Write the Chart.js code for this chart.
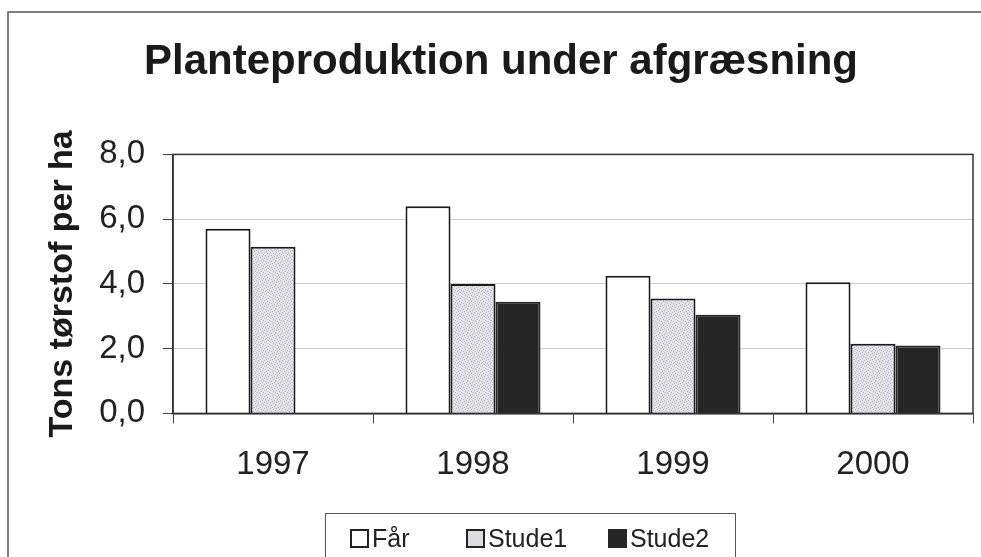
<!DOCTYPE html>
<html>
<head>
<meta charset="utf-8">
<script src="https://cdn.jsdelivr.net/npm/chart.js@4.4.1/dist/chart.umd.min.js"></script>
<style>
  html, body { margin: 0; padding: 0; background: #fff; }
  #wrap { position: relative; width: 981px; height: 557px; }
  #legend {
    position: absolute; left: 325px; top: 513px; width: 411px; height: 50px;
    border: 1.5px solid #555; border-bottom: none; box-sizing: border-box;
    font-family: "Liberation Sans", Arial, sans-serif; font-size: 25px; color: #222;
  }
  #legend .item { position: absolute; top: 10px; display: flex; align-items: center; }
  #legend .box { width: 15px; height: 15px; border: 2px solid #222; margin-right: 3px; }
</style>
</head>
<body>
<div id="wrap">
  <canvas id="chart" width="981" height="557"></canvas>
  <div id="legend"></div>
</div>
<script>
// values (tons dry matter per ha)
const years = ['1997', '1998', '1999', '2000'];
const seriesNames = ['Får', 'Stude1', 'Stude2'];
const farValues = [5.7, 6.4, 4.25, 4.05];
const stude1Values = [5.15, 4.0, 3.55, 2.15];
const stude2Values = [null, 3.45, 3.05, 2.1];

const FONT = '"Liberation Sans", Arial, sans-serif';

// light stippled grey fill like the scan
function stipple() {
  const c = document.createElement('canvas');
  c.width = 6; c.height = 6;
  const g = c.getContext('2d');
  g.fillStyle = '#e2e2e8';
  g.fillRect(0, 0, 6, 6);
  g.fillStyle = '#b8b8c0';
  [[0, 0], [3, 1], [1, 3], [4, 4], [5, 2], [2, 5]].forEach(p => g.fillRect(p[0], p[1], 1, 1));
  return g.createPattern(c, 'repeat');
}

const framePlugin = {
  id: 'frame',
  beforeDraw(chart) {
    const ctx = chart.ctx;
    ctx.save();
    ctx.strokeStyle = '#555';
    ctx.lineWidth = 1.5;
    ctx.beginPath();
    ctx.moveTo(8, 557);
    ctx.lineTo(8, 12);
    ctx.lineTo(981, 12);
    ctx.stroke();
    ctx.restore();
  },
  afterDatasetsDraw(chart) {
    const a = chart.chartArea;
    const ctx = chart.ctx;
    ctx.save();
    ctx.strokeStyle = '#333';
    ctx.lineWidth = 1.5;
    ctx.strokeRect(a.left, a.top, a.right - a.left, a.bottom - a.top);
    ctx.restore();
  }
};

const chart = new Chart(document.getElementById('chart'), {
  type: 'bar',
  data: {
    labels: years,
    datasets: [
      { label: seriesNames[0], data: farValues, backgroundColor: '#fff', borderColor: '#1a1a1a', borderWidth: 2 },
      { label: seriesNames[1], data: stude1Values, backgroundColor: stipple(), borderColor: '#1a1a1a', borderWidth: 2 },
      { label: seriesNames[2], data: stude2Values, backgroundColor: '#262626', borderColor: '#262626', borderWidth: 2 }
    ]
  },
  options: {
    responsive: false,
    animation: false,
    devicePixelRatio: 1,
    layout: { padding: { left: 29, right: 8, top: 0, bottom: 50 } },
    datasets: { bar: { categoryPercentage: 0.675, barPercentage: 1 } },
    plugins: {
      legend: { display: false },
      tooltip: { enabled: false },
      title: {
        display: true,
        text: 'Planteproduktion under afgræsning',
        color: '#1a1a1a',
        font: { family: FONT, size: 42, weight: 'bold' },
        padding: { top: 37, bottom: 67 }
      }
    },
    scales: {
      x: {
        grid: { offset: true, drawOnChartArea: false, color: '#444', tickLength: 10 },
        border: { color: '#333', width: 1.5 },
        ticks: { color: '#222', padding: 22, font: { family: FONT, size: 33 } }
      },
      y: {
        min: 0,
        max: 8,
        afterFit(scale) { scale.width = 144; },
        ticks: {
          stepSize: 2,
          color: '#222',
          padding: 18,
          font: { family: FONT, size: 33 },
          callback: v => v.toFixed(1).replace('.', ',')
        },
        grid: { color: '#cfcfcf', tickLength: 10, tickColor: '#444' },
        border: { color: '#333', width: 1.5 },
        title: {
          display: true,
          text: 'Tons tørstof per ha',
          color: '#1a1a1a',
          font: { family: FONT, size: 34, weight: 'bold' },
          padding: { top: 13, bottom: 0 }
        }
      }
    }
  },
  plugins: [framePlugin]
});

// html legend built from the chart datasets
const legendEl = document.getElementById('legend');
const legendX = [24, 140, 282];
chart.data.datasets.forEach((ds, i) => {
  const item = document.createElement('div');
  item.className = 'item';
  item.style.left = legendX[i] + 'px';
  const box = document.createElement('span');
  box.className = 'box';
  box.style.background = i === 1 ? '#dcdce2' : ds.backgroundColor;
  if (i === 2) box.style.borderColor = ds.borderColor;
  const txt = document.createElement('span');
  txt.textContent = ds.label;
  item.appendChild(box);
  item.appendChild(txt);
  legendEl.appendChild(item);
});
</script>
</body>
</html>
